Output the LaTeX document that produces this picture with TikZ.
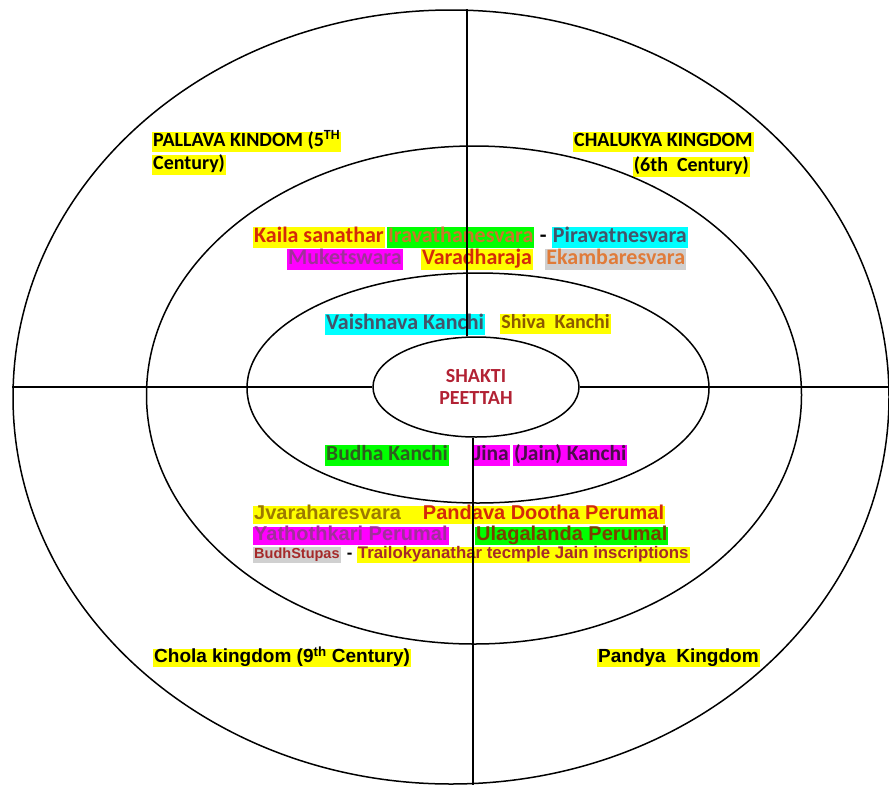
\documentclass[tikz,border=0pt]{standalone}
\usepackage{fontspec}
\setmainfont{Carlito}
\newfontfamily\arialfont{Liberation Sans}
\usetikzlibrary{positioning,shapes.geometric}

\definecolor{hlyellow}{HTML}{FFFF00}
\definecolor{hlgreen}{HTML}{00FF00}
\definecolor{hlcyan}{HTML}{00FFFF}
\definecolor{hlpink}{HTML}{FF00FF}
\definecolor{hlgray}{HTML}{D0D0D0}
\definecolor{txtred}{HTML}{D42A0A}
\definecolor{txtorange}{HTML}{C8792A}
\definecolor{txtslate}{HTML}{44546A}
\definecolor{txtpurple}{HTML}{A0309A}
\definecolor{txtpeach}{HTML}{E07B39}
\definecolor{txtbrown}{HTML}{8B5A00}
\definecolor{txtshakti}{HTML}{B22234}
\definecolor{txtgreen}{HTML}{2E5E1E}
\definecolor{txtplum}{HTML}{4B0E4B}
\definecolor{txtolive}{HTML}{9C7A00}
\definecolor{txtumber}{HTML}{7A4000}
\definecolor{txtmaroon}{HTML}{A52A2A}

\tikzset{
	ring/.style={
		ellipse,
		draw=black, line width=1.5pt,
		inner sep=0pt,
	},
	spoke/.style={draw=black, line width=1.2pt},
	calib/.style={font=\bfseries\fontsize{20}{24}\selectfont, text height=14.5pt, text depth=5pt},
	calibbig/.style={font=\bfseries\fontsize{22}{26}\selectfont, text height=15.5pt, text depth=5.5pt},
	arial/.style={font=\arialfont\bfseries\fontsize{20}{23}\selectfont, text height=14pt, text depth=4.5pt},
	arialsmall/.style={font=\arialfont\bfseries\fontsize{16.8}{19}\selectfont, text height=11.5pt, text depth=4pt},
	hl/.style={fill=#1, inner sep=0pt, inner xsep=1pt}
}

\begin{document}
\begin{tikzpicture}[x=1pt,y=-1pt]
	\useasboundingbox (0,0) rectangle (889,788);
	
	\node[calib, hl=hlyellow, anchor=west](PAL1) at (152,142){PALLAVA KINDOM (5\textsuperscript{TH}};
	\node[calib, hl=hlyellow, anchor=west](PAL2) at (152,165){Century)};
	\node[calib, hl=hlyellow, anchor=west](CHA1) at (573,142){CHALUKYA KINGDOM};
	\node[calib, hl=hlyellow, anchor=east](CHA2) at (750,167){(6th\ \ Century)};
	\node[arial, hl=hlyellow, anchor=west, font=\arialfont\bfseries\fontsize{19}{22}\selectfont](CHO) at (153,658){Chola kingdom (9\textsuperscript{th} Century)};
	\node[arial, hl=hlyellow, anchor=west, font=\arialfont\bfseries\fontsize{19}{22}\selectfont](PAN) at (597,658){Pandya\ \ Kingdom};
	
	\node[calibbig, hl=hlyellow, text=txtred, anchor=west](KAI) at (253,237){Kaila sanathar};
	\node[calibbig, hl=hlgreen, text=txtorange, right=2pt of KAI](IRA){Iravathanesvara};
	\node[calibbig, inner sep=0pt, right=5pt of IRA](DSH1){-};
	\node[calibbig, hl=hlcyan, text=txtslate, right=5pt of DSH1](PIR){Piravatnesvara};
	
	\node[calibbig, hl=hlpink, text=txtpurple, anchor=west](MUK) at (287,259){Muketswara};
	\node[calibbig, hl=hlyellow, text=txtred, right=18pt of MUK](VAR){Varadharaja};
	\node[calibbig, hl=hlgray, text=txtpeach, right=12pt of VAR](EKA){Ekambaresvara};
	
	\node[calibbig, hl=hlcyan, text=txtslate, anchor=west](VAI) at (325,324){Vaishnava Kanchi};
	\node[calib, hl=hlyellow, text=txtbrown, right=15pt of VAI](SHI){Shiva\ \ Kanchi};
	
	\node[calibbig, hl=hlgreen, text=txtgreen, anchor=west, font=\bfseries\fontsize{21.5}{26}\selectfont](BUD) at (325,455){Budha Kanchi};
	\node[calibbig, hl=hlpink, text=txtplum, right=24pt of BUD, font=\bfseries\fontsize{21.5}{26}\selectfont](JIN){Jina};
	\node[calibbig, hl=hlpink, text=txtplum, right=3pt of JIN, font=\bfseries\fontsize{21.5}{26}\selectfont](JAI){(Jain) Kanchi};
	
	\node[arial, hl=hlyellow, anchor=west](JVA) at (253,515){\textcolor{txtolive}{Jvaraharesvara}\hspace{1.1em}\textcolor{txtred}{Pandava Dootha Perumal}};
	\node[arial, hl=hlpink, text=txtpurple, anchor=west](YAT) at (253,536){Yathothkari Perumal};
	\node[arial, hl=hlgreen, text=txtumber, anchor=west](ULA) at (475,536){Ulagalanda Perumal};
	\node[arialsmall, hl=hlgray, text=txtmaroon, anchor=west, font=\arialfont\bfseries\fontsize{14.5}{17}\selectfont](BST) at (253,555){BudhStupas};
	\node[arialsmall, inner sep=0pt, right=6pt of BST](DSH2){-};
	\node[arialsmall, hl=hlyellow, text=txtmaroon, right=4pt of DSH2](TRA){Trailokyanathar tecmple Jain inscriptions};
	
	\node[ring, minimum width=876pt, minimum height=774pt](OUTER) at (451,397){};
	\node[ring, minimum width=655pt, minimum height=498pt](MID) at (474,395){};
	\node[ring, minimum width=462pt, minimum height=230pt](INNER) at (478,388){};
	\node[ring, minimum width=206pt, minimum height=100pt, align=center, text=txtshakti, font=\bfseries\fontsize{20}{21.5}\selectfont](CORE) at (476,387){SHAKTI\\PEETTAH};
	
	\draw[spoke] ([xshift=-9pt]CORE.north) -- ([xshift=-9pt]CORE.north |- OUTER.north);
	\draw[spoke] ([xshift=-3pt]CORE.south) -- ([xshift=-3pt]CORE.south |- OUTER.south);
	\draw[spoke] (CORE.west) -- (CORE.west -| OUTER.west);
	\draw[spoke] (CORE.east) -- (CORE.east -| OUTER.east);
\end{tikzpicture}
\end{document}
